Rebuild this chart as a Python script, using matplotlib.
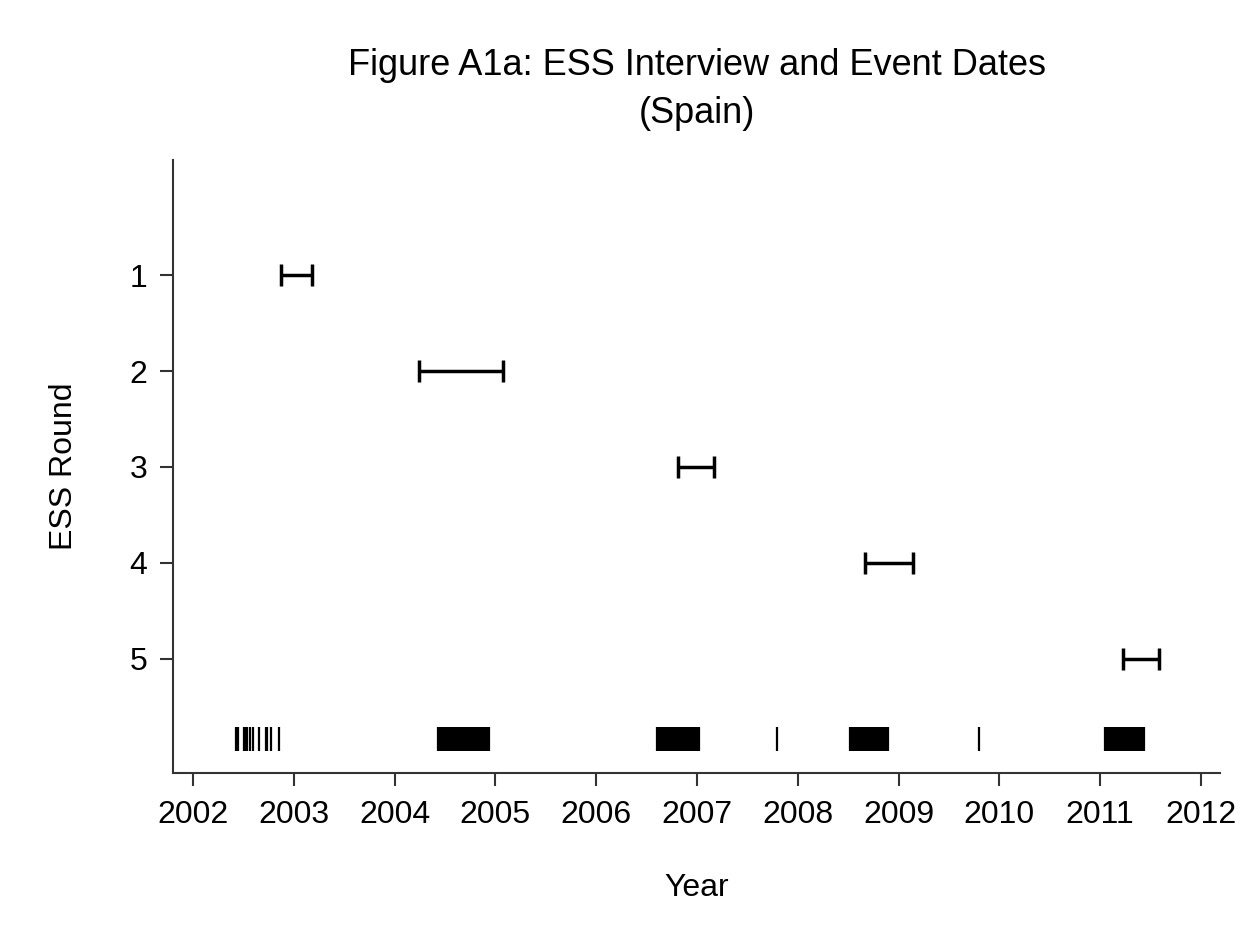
import numpy as np
import matplotlib.pyplot as plt

plt.rcParams['font.family'] = ['Liberation Sans', 'DejaVu Sans']

# interview periods per ESS round (decimal years)
rounds = np.array([1, 2, 3, 4, 5])
start = np.array([2002.871, 2004.240, 2006.807, 2008.669, 2011.229])
end = np.array([2003.176, 2005.077, 2007.165, 2009.139, 2011.583])

# event dates (decimal years)
events = [2002.424, 2002.447, 2002.504, 2002.519, 2002.531, 2002.563, 2002.596,
          2002.653, 2002.722, 2002.735, 2002.772, 2002.854,
          2004.432, 2004.45, 2004.47, 2004.49, 2004.51, 2004.53, 2004.55, 2004.57,
          2004.59, 2004.61, 2004.63, 2004.65, 2004.67, 2004.69, 2004.71, 2004.73,
          2004.75, 2004.77, 2004.79, 2004.81, 2004.83, 2004.85, 2004.87, 2004.89,
          2004.91, 2004.925, 2004.938,
          2006.605, 2006.62, 2006.64, 2006.66, 2006.68, 2006.70, 2006.72, 2006.74,
          2006.76, 2006.78, 2006.80, 2006.82, 2006.84, 2006.86, 2006.88, 2006.90,
          2006.92, 2006.94, 2006.96, 2006.98, 2007.00, 2007.022,
          2007.790,
          2008.517, 2008.53, 2008.55, 2008.57, 2008.59, 2008.61, 2008.63, 2008.65,
          2008.67, 2008.69, 2008.71, 2008.73, 2008.75, 2008.77, 2008.79, 2008.81,
          2008.83, 2008.85, 2008.87, 2008.885, 2008.897,
          2009.800,
          2011.047, 2011.06, 2011.08, 2011.10, 2011.12, 2011.14, 2011.16, 2011.18,
          2011.20, 2011.22, 2011.24, 2011.26, 2011.28, 2011.30, 2011.32, 2011.34,
          2011.36, 2011.38, 2011.40, 2011.42, 2011.434]

years = np.arange(2002, 2013)

fig = plt.figure(figsize=(12.53, 9.41), dpi=100)
ax = fig.add_axes([0.138, 0.1785, 0.8357, 0.6515])

ax.errorbar(start, rounds, xerr=[np.zeros(len(start)), end - start], fmt='none',
            ecolor='black', elinewidth=2.5, capsize=8, capthick=2.5)
ax.vlines(events, 5.71, 5.96, color='black', linewidth=1.6)

ax.set_xlim(2001.80, 2012.19)
ax.set_ylim(6.19, -0.2)
ax.set_xticks(years)
ax.set_yticks(rounds)

for s in ['top', 'right']:
    ax.spines[s].set_visible(False)
for s in ['left', 'bottom']:
    ax.spines[s].set_color('#333333')
    ax.spines[s].set_linewidth(1.5)
ax.tick_params(axis='both', length=9.5, width=1.5, color='#333333', labelsize=23)
ax.tick_params(axis='x', pad=10)
ax.tick_params(axis='y', pad=9)

ax.set_xlabel('Year', fontsize=23, labelpad=31)
ax.set_ylabel('ESS Round', fontsize=23, labelpad=36)
fig.text(0.5565, 0.905, 'Figure A1a: ESS Interview and Event Dates\n(Spain)',
         ha='center', va='center', fontsize=26, linespacing=1.5)

plt.savefig('out.png', dpi=100)
